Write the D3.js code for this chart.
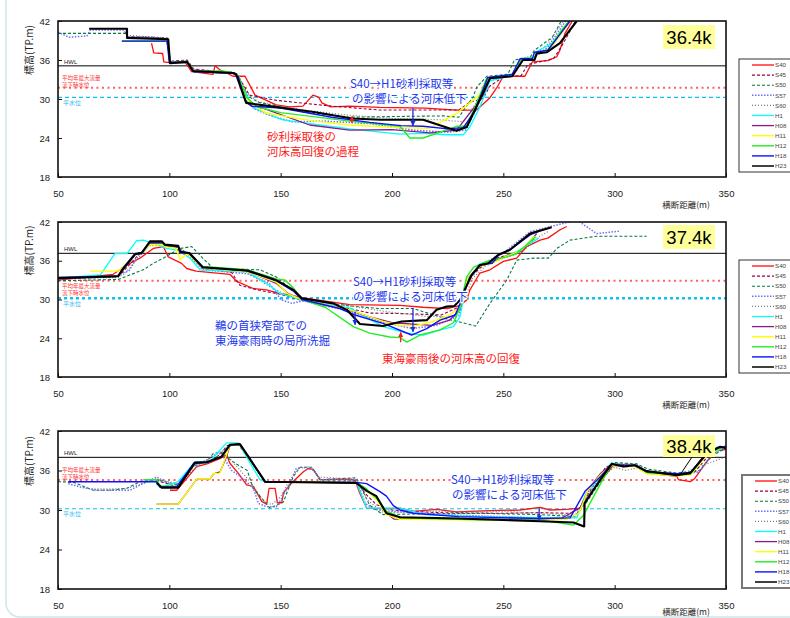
<!DOCTYPE html>
<html>
<head>
<meta charset="utf-8">
<script src="https://cdn.jsdelivr.net/npm/d3@7"></script>
<style>
body { margin: 0; background: #fff; }
svg { display: block; }
</style>
</head>
<body>
<svg id="chart" width="790" height="618"></svg>
<script>
// ---- data (distance m, elevation TP.m) ----
const sections = ["36.4k", "37.4k", "38.4k"];
const seriesNames = ["S40", "S45", "S50", "S57", "S60", "H1", "H08", "H11", "H12", "H18", "H23"];
const xTicks = [50, 100, 150, 200, 250, 300, 350];
const yTicks = [18, 24, 30, 36, 42];
const hwl = [35.1, 37.15, 38.0];
const floodLevel = [31.75, 32.9, 34.56];
const normalLevel = [30.25, 30.2, 30.2];

// 36.4k
const k364_S40 = [[92,38.6],[93,37.1],[97,37.0],[97.5,35.7],[100,35.6],[107,35.7],[110,34.2],[119.6,33.8],[120.5,35.1],[122.7,34.5],[128.6,33.5],[134,33.5],[138.5,30.6],[148,29.1],[154,28.8],[160,28.9],[164.5,30.6],[167,30.3],[168.5,29.4],[172.4,28.8],[181,28.9],[194.6,28.7],[215,28.6],[229,28.3],[238,28.3],[244,30.2],[247,31.7],[250,33.5],[259.7,33.5],[263,35.7],[270,35.9],[274,36.5],[275.4,37.5],[277.7,40.1],[281,42]];
const k364_S45 = [[80,40.4],[81,39.6],[99,39.4],[100.5,35.8],[108,36.0],[111,34.6],[129,34.0],[131,33.4],[136,30.6],[148,29.8],[170,29.0],[194.6,28.3],[215,28.3],[230,28.3],[235,29.5],[241,30.1],[244,32],[250,33.4],[258,33.6],[261,35.3],[272.5,36.2],[276,38],[279.4,40.1],[282.4,42]];
const k364_S50 = [[50,40.1],[81,40.1],[81,39.5],[99,39.3],[100.5,35.7],[108,35.8],[111,34.4],[129,34.1],[131,33.6],[135,30.5],[140,29.5],[160,28.0],[181,27.2],[200,27.3],[223,27.4],[230,27.2],[236.4,30.3],[238,31.8],[242.6,33.5],[252,33.8],[255,36.0],[262,36.4],[264,37.5],[272,39.5],[276,42]];
const k364_S57 = [[50,40.3],[55,39.5],[63,39.7],[64.5,40.6],[81,40.6],[81,39.6],[92.7,39.5],[99,39.0],[100.5,35.7],[108,35.7],[111,34.4],[129,34.0],[131,33.0],[134,30.5],[138,28.5],[145,27.5],[155,26.5],[170,26.6],[190,26.2],[210,25.2],[225,24.9],[233,25.2],[238,28.5],[243,32.8],[254,33.7],[258,36.2],[264,36.4],[270,38],[278,42]];
const k364_S60 = [[81,39.8],[99,39.4],[100.5,35.8],[108,35.9],[111,34.5],[129,34.1],[131,33.7],[135,30.8],[140,29.6],[160,28.3],[181,27.5],[200,27.0],[222,26.8],[232,26.5],[238,29.5],[243,33.0],[254,33.7],[258,36.3],[264,36.6],[270,38.5],[277,42]];
const k364_H1 = [[78.7,38.9],[99,38.9],[100.5,35.6],[108,35.6],[111,34.2],[129,34.0],[131,33.3],[135,30.3],[138,28.6],[151,26.8],[181,25.4],[203.6,24.6],[215,24.7],[224.7,24.5],[232,24.5],[235,25.7],[239.5,28.8],[244,32.8],[254,33.6],[258,36.2],[264,36.4],[265,37.3],[272.5,38.7],[279.4,42]];
const k364_H08 = [[78.7,38.9],[99,38.9],[100.5,35.6],[108,35.6],[111,34.2],[129,33.9],[131,33.5],[134.5,29.5],[137,28.9],[142,28.6],[163,26.0],[181,25.2],[200,25.3],[217,24.8],[229,25.2],[236,28.3],[241,30.6],[244,33.2],[254,33.6],[258,36],[264,36.2],[265,37],[270,37.3],[276,40.2],[279.5,42]];
const k364_H11 = [[78.7,38.9],[99,38.9],[100.5,35.6],[108,35.6],[111,34.3],[129,34.0],[131,33.5],[134.5,30.2],[136,29.4],[143.6,27.8],[165,26.6],[181,26.0],[203.6,25.6],[217,25.5],[229,27.8],[235,29.4],[239.5,30.7],[243.5,33.3],[254,33.6],[258,36],[264,36.2],[265,37],[270,37.3],[276,40],[280,42]];
const k364_H12 = [[78.7,38.9],[99,38.9],[100.5,35.6],[108,35.6],[111,34.2],[124,34.3],[129,34.0],[131,33.5],[134.5,30.3],[139.4,28.8],[150,27.9],[181,26.6],[203.6,25.8],[208,24.0],[214,24.0],[229,25.8],[233,25.8],[237,28.5],[242.5,33.2],[254,33.7],[258,36.1],[264,36.3],[265,37.1],[270,37.6],[276,40.5],[279.5,42]];
const k364_H18 = [[78.7,38.9],[99,38.9],[100,35.6],[108,35.7],[111,34.2],[129,34.0],[131,33.4],[134,29.8],[137,28.9],[150,28.6],[173,27.2],[190,26.4],[204,25.9],[214,25.8],[225,25.4],[232,25.6],[237,28.0],[243,33.3],[254,33.8],[257.5,36.2],[263,36.2],[264,37.2],[270,37.5],[276,40.2],[280,42]];
const k364_H23 = [[64,40.8],[81,40.8],[81,39.4],[99.5,39.2],[100.3,35.5],[108,35.7],[110.6,34.3],[128.6,34.0],[130,33.8],[134.5,29.4],[145,28.9],[165,28.0],[182,27.0],[195,26.8],[214,26.8],[229,25.1],[233.6,25.7],[244,33.2],[254,33.5],[258.8,36],[264,36],[265,37],[269.6,37.2],[275.4,38.6],[283,42]];

// 37.4k
const k374_S40 = [[50,33.0],[74.8,33.9],[80.8,35.3],[86.8,36.4],[92.8,37.9],[97.3,38.2],[99.5,36.6],[105.5,35.6],[107.8,34.8],[112,34.4],[127.2,33.9],[130.2,32.8],[137.7,31.7],[143.7,31.5],[149.7,30.9],[154,30.7],[159.5,30.3],[181,29.2],[203.6,29.1],[214,28.8],[224.7,28.6],[230,29.0],[233.5,29.9],[235,31.5],[239.5,34.1],[244,34.6],[250,35.9],[256,36.4],[260.5,38.2],[266.5,39.2],[270,39.5],[275.5,40.8],[278.5,41.3]];
const k374_S45 = [[50,33.2],[77,33.5],[80,34.6],[85,36.5],[91,38.5],[97,38.6],[104,38.0],[109,37.0],[115,34.8],[128,34.2],[131.7,32.2],[139.4,31.5],[150,30.8],[160,29.8],[181,28.6],[190,27.9],[206.6,27.8],[222,27.6],[230,28.8],[234,33],[240,35],[248,36.5],[258,37.5],[264,39.5]];
const k374_S50 = [[50,32.9],[77,33.1],[88.3,34.6],[92.8,35.6],[97.3,36.4],[104.8,37.9],[110,38.2],[115,36.4],[119.8,34.8],[140.8,34.6],[148,33.5],[155,31.5],[160,30.0],[181,29.0],[194.6,28.6],[209.5,28.6],[224.6,27.0],[237.6,25.9],[244,29.4],[251.5,33.0],[256,36.1],[263.5,36.4],[270.2,36.4],[274,37.9],[280,39.2],[292,39.8],[314.4,39.8]];
const k374_S57 = [[50,33.2],[75,33.5],[82,34.5],[86,36.8],[91,38.5],[97,38.6],[104,38.0],[109,36.8],[115,34.6],[135,34.0],[145,32.5],[150,30.0],[155,29.4],[160,29.8],[181,28.2],[196,26.5],[209,25.5],[220,26.0],[230,27.5],[234,33],[240,35.4],[250,37.2],[262,40.5],[283,42.3],[292,40.2],[302.6,40.6]];
const k374_S60 = [[50,33.3],[77,33.4],[80,34.0],[85,36.0],[91,38.3],[97,38.4],[104,38.0],[109,36.9],[115,34.8],[135,34.2],[145,32.0],[152,30.8],[160,30.0],[181,29.0],[196,28.2],[215,27.4],[228,27.3],[232,29.5],[236,33.2],[242,35.2],[250,36.4],[258,37.2],[265,39.5],[270,40.5]];
const k374_H1 = [[50,33.3],[69,33.8],[75.6,37.1],[81,37.1],[85.3,39.1],[88.3,39.2],[92.8,38.7],[98.8,37.9],[104,37.6],[109.3,36.4],[113.8,34.6],[135,34.3],[144.9,32.2],[149.4,31.0],[154,30.5],[159.5,29.9],[181,28.7],[196,25.8],[206.6,24.8],[214.1,24.5],[221.6,25.3],[227.6,25.8],[230.5,27.3],[233.5,32.5],[239.5,35.5],[247,36.0],[257.5,37.7],[263.5,39.0],[266,39.5]];
const k374_H08 = [[50,33.4],[77,33.7],[79,34.8],[84.6,37.0],[87.6,37.1],[91.3,38.7],[96.7,38.7],[98,38.3],[104,38.1],[105,37.2],[109,37.0],[115,34.9],[135,34.4],[148,32.5],[153,31.0],[159.5,30.0],[181,28.3],[190,27.3],[200,26.4],[209.5,26.2],[218,26.0],[226,26.8],[230.5,28.5],[234,33.3],[239.5,35.3],[245,35.7],[250,36.6],[258,37.5],[265,40.2]];
const k374_H11 = [[64.4,34.4],[77,34.4],[79,35.0],[84.6,37.0],[87.6,37.2],[91.3,38.5],[96.7,38.5],[98,38.2],[103,37.9],[104.8,36.2],[107.8,37.0],[109,36.9],[115,34.9],[135,34.3],[148,32.7],[153,30.9],[159.5,30.0],[181,28.4],[196,26.6],[203.6,26.0],[210,25.9],[218.6,26.6],[226,27.6],[230.5,28.8],[234,33.3],[239.5,35.2],[245,35.6],[250,36.5],[258,37.6],[264,39.8]];
const k374_H12 = [[50,33.4],[77,33.6],[79,34.7],[84.6,37.0],[87.6,37.2],[91.3,38.8],[96.7,38.8],[98,38.4],[104,38.2],[105,37.3],[109,37.2],[115,35.1],[135,34.6],[148,33.2],[152,33.0],[155.7,31.8],[159.5,30.0],[170,28.8],[182.6,25.8],[190,24.8],[199,24.2],[203.6,24.1],[206.6,23.4],[212.6,24.5],[221.6,25.3],[227.6,26.4],[230.5,28.7],[233.5,33.5],[236.7,35.0],[242.5,35.9],[251.5,36.6],[256,37.1],[264.5,39.7]];
const k374_H18 = [[50,33.4],[77,33.6],[79,34.8],[84.6,37.1],[87.6,37.3],[91.3,38.9],[96.7,38.9],[98,38.4],[104,38.2],[105,37.3],[109,37.1],[115,35.0],[135,34.4],[148,32.9],[155.7,31.3],[159.5,30.0],[176.6,28.6],[183.4,27.6],[196,26.3],[208.8,24.5],[215.6,25.5],[221.6,26.8],[228.4,27.6],[230.5,29.3],[235,33.5],[239.5,35.4],[245,35.6],[248,36.9],[253,37.7],[262,40.0],[266,40.6]];
const k374_H23 = [[50,33.3],[77,33.6],[79,34.6],[84.6,37.0],[87.6,37.2],[91.3,39.0],[96.7,39.0],[98,38.5],[104,38.3],[104.8,37.4],[109,37.2],[115,35.0],[135,34.5],[148,33.0],[155.7,31.5],[159.5,30.2],[173.6,29.4],[179.7,28.4],[185.6,26.2],[196,25.9],[204.3,26.6],[215.6,26.8],[220,28.4],[224.6,28.9],[228,29.0],[230.5,29.9],[235.8,33.8],[239.5,35.3],[243.3,35.6],[247.6,36.9],[253,37.7],[262,40.2],[271.7,41.2]];

// 38.4k
const k384_S40 = [[100.3,33.0],[103.3,33.0],[112.3,36.6],[117.7,37.1],[122.7,37.8],[125.7,38.4],[127.2,37.1],[130.9,35.6],[134.7,33.8],[137.7,33.6],[141.5,31.3],[143.7,30.9],[144.8,33.3],[147.5,33.3],[148.5,31.1],[150.5,31.1],[151.2,32.6],[154.9,34.1],[160.2,35.8],[162.4,36.3],[164.5,36.2],[167.7,34.6],[181.1,34.7],[183.4,34.5],[185.6,32.5],[188.6,30.3],[197.5,30.2],[203.6,30.3],[209.5,29.8],[220,30.1],[229,29.7],[244,29.9],[257.5,30.0],[266.5,30.4],[271,30.0],[278.5,30.1],[284.4,30.3],[288.9,32.5],[294.1,34.6],[299.4,36.8],[305.4,36.6],[309,36.7],[314.4,35.6],[327.9,35.1],[328.7,34.6],[334,34.3],[336,34.8],[341.4,37.4],[345.9,39.0],[350,39.2]];
const k384_S45 = [[94,34.5],[104,33.5],[111.5,37.0],[118,37.3],[123,38.5],[126,39.8],[131,39.9],[135.5,38.0],[143,34.3],[160,34.3],[184,34.4],[188,32.5],[193,30.8],[200,30.0],[220,29.6],[250,29.5],[266.5,29.6],[280,29.5],[285,30.5],[290,33.5],[296,36.5],[300,37.0],[310,36.8],[314,35.8],[328,35.5],[336,35.8],[342,38.2],[348,39.4]];
const k384_S50 = [[50,34.3],[57,34.2],[65.9,33.0],[73.4,33.0],[80.9,33.3],[86.8,34.3],[94.3,34.6],[104,33.8],[110,36.5],[117,37.5],[119.8,38.6],[123,38.8],[126,38],[130,37],[135,36],[137.7,33.3],[142.2,31.5],[145.2,30.3],[151.2,31.2],[155.7,35.1],[158.7,36.5],[164,36.5],[167.7,34.6],[184,34.9],[190,30.7],[196,29.3],[210,29.4],[240,29.5],[266,29.3],[282,29.0],[287,31],[294,34.5],[300,37.2],[310,37.0],[315,36.2],[328,35.6],[338,36.0],[344,38.3],[349,39.2]];
const k384_S57 = [[54.6,34.0],[60,33.5],[67.4,33.0],[82.3,33.0],[88,34],[94.3,35.0],[100,34.0],[104,34.0],[110,36.5],[118,37.8],[122,38.7],[124,38.2],[128,36],[133,34.8],[137.7,33.3],[140,31.0],[143.7,30.5],[148,30.5],[150,31.5],[153.7,33.8],[157,36.3],[160,36.5],[165,36.0],[168,34.6],[184,34.6],[188,31.0],[192,30.1],[200,29.8],[230,29.2],[266,28.8],[282,28.9],[287,31.5],[293,35],[299,37],[310,36.9],[315,35.7],[329,35.4],[338,35.8],[344,38.5],[350,39.8]];
const k384_S60 = [[65,33.2],[80,33.2],[88,34.0],[94,34.7],[104,34.0],[112,36.5],[119,38.0],[124,39.0],[128,37.5],[134,35.2],[138,33.5],[142,31.5],[146,30.8],[150,32],[154,34.5],[158,36.3],[163,36.6],[167,35.0],[184,34.7],[189,31.5],[196,29.6],[220,29.8],[250,29.8],[282,29.2],[288,32],[294,35],[300,36.5],[305,36.0],[311,36.5],[316,35.5],[328,35.3],[350,38.1]];
const k384_H1 = [[94,34.3],[95.8,33.4],[104,34.3],[111.5,37.3],[118,37.3],[125.7,40.2],[131,40.2],[140.7,34.6],[143,34.3],[184,34.2],[188.6,30.3],[203.6,30.3],[215,29.3],[240,29.0],[266.5,28.8],[283,28.8],[287,32.5],[293.5,35.0],[298.7,37.2],[304,36.5],[309,36.8],[314.4,35.7],[328,35.3],[334,35.5],[340,38.0],[349,39.5]];
const k384_H08 = [[94.3,30.9],[104,30.9],[112.3,34.7],[118.2,34.7],[119.8,35.5],[122.8,35.8],[125.7,38.1],[127.2,39.8],[131.7,39.9],[135.5,38.0],[143,34.3],[184,34.1],[188.6,33.0],[193,31.8],[197.5,29.5],[201,28.6],[210,28.6],[240,28.6],[266.5,28.6],[276,28.7],[284.4,30.3],[289,33.5],[293.5,35.5],[298.7,37.0],[304,36.8],[309,36.9],[314.4,35.6],[328,35.3],[334,35.6],[340,38.2],[348,39.5]];
const k384_H11 = [[94.3,30.9],[104,30.9],[112.3,34.7],[118.2,34.7],[119.8,35.5],[122.7,35.6],[125.7,38.4],[127.2,39.9],[131.7,39.9],[135.5,38.0],[143,34.3],[184,34.1],[188.6,33.0],[193,31.6],[197.5,29.3],[203.6,28.6],[230,28.5],[266.5,28.4],[278.5,28.6],[284,29.5],[288,33.0],[293.5,35.3],[298.7,36.8],[304,36.6],[309,36.7],[314.4,35.5],[328,35.2],[334,35.3],[340,37.8],[347,39.3]];
const k384_H12 = [[88.3,34.6],[94.3,34.6],[96,33.6],[104,33.6],[111.5,37.1],[117,37.2],[123.5,38.2],[127.2,39.9],[131.7,40.0],[135.5,38.0],[143,34.3],[184,34.2],[188.6,33.2],[193,31.8],[197.5,29.8],[203.6,28.9],[215.6,28.7],[240,28.5],[266.5,28.5],[281.5,27.7],[286,29.2],[293.5,33.9],[298.7,37.0],[304,36.7],[309,36.9],[314.4,35.7],[328,35.4],[334,35.5],[340,38],[348,39.6]];
const k384_H18 = [[54.6,34.3],[94.3,34.3],[95.8,33.5],[103.3,33.5],[111,37.1],[117,37.2],[123,38.0],[127,39.9],[131.7,40.0],[135.5,38.1],[143,34.2],[184,34.2],[188.6,34.0],[194.6,32.8],[197.5,32.1],[200.5,30.7],[203.6,30.0],[209.5,29.5],[230,29.0],[266.5,28.7],[280,28.8],[286.8,32.9],[293.5,35.0],[298.7,37.0],[304,36.7],[309,36.8],[314.4,35.8],[328,35.5],[334,35.7],[340,38.0],[346,39.5],[350,39.6]];
const k384_H23 = [[94.3,34.1],[96.6,33.4],[104,33.4],[111.5,37.2],[117,37.3],[123.5,38.1],[127.2,39.9],[131.7,40.0],[135.5,38.1],[143,34.3],[184,34.1],[188.6,32.9],[193,32.1],[197.5,29.5],[203.6,28.9],[230,28.7],[266.5,28.3],[281.5,28.1],[286.3,27.5],[286.5,31.0],[293.5,34.6],[298.7,37.0],[304,36.6],[309,36.8],[314.4,35.9],[327.9,35.3],[334,35.6],[341.4,38.6],[347.4,39.6],[350,39.4]];

// ---- styles ----
const seriesStyle = {
  S40: { color: "#ff1010", width: 1.3, dash: null },
  S45: { color: "#990040", width: 1.1, dash: "3,2" },
  S50: { color: "#007a40", width: 1.1, dash: "3,2" },
  S57: { color: "#6f6fff", width: 1.5, dash: "1.5,1.5" },
  S60: { color: "#7a7a7a", width: 1.2, dash: "1,2" },
  H1:  { color: "#00ffff", width: 1.3, dash: null },
  H08: { color: "#8a1a8a", width: 1.3, dash: null },
  H11: { color: "#ffff00", width: 1.4, dash: null },
  H12: { color: "#22ee22", width: 1.4, dash: null },
  H18: { color: "#1010ff", width: 1.4, dash: null },
  H23: { color: "#000000", width: 2.1, dash: null }
};

const panelData = [
  { S40: k364_S40, S45: k364_S45, S50: k364_S50, S57: k364_S57, S60: k364_S60, H1: k364_H1, H08: k364_H08, H11: k364_H11, H12: k364_H12, H18: k364_H18, H23: k364_H23 },
  { S40: k374_S40, S45: k374_S45, S50: k374_S50, S57: k374_S57, S60: k374_S60, H1: k374_H1, H08: k374_H08, H11: k374_H11, H12: k374_H12, H18: k374_H18, H23: k374_H23 },
  { S40: k384_S40, S45: k384_S45, S50: k384_S50, S57: k384_S57, S60: k384_S60, H1: k384_H1, H08: k384_H08, H11: k384_H11, H12: k384_H12, H18: k384_H18, H23: k384_H23 }
];

// layout
const plotTop = [21, 222, 431];
const plotBottom = [177, 377, 589];
const legendBox = [[739, 59, 113], [739, 260, 113], [742, 475, 113]];
const floodLabelDy = [-8, 7, -8];
const JP = "'Noto Sans CJK JP', sans-serif";
const LAT = "'Liberation Sans', Arial, sans-serif";

const svg = d3.select("#chart");
const defs = svg.append("defs");

// frame of the page
svg.append("rect").attr("x", 6).attr("y", -20).attr("width", 800).attr("height", 637)
  .attr("rx", 14).attr("fill", "none").attr("stroke", "#cfe6ec").attr("stroke-width", 1.5);

["blue", "red"].forEach(c => {
  defs.append("marker").attr("id", "arr-" + c).attr("viewBox", "0 0 10 10")
    .attr("refX", 9).attr("refY", 5).attr("markerWidth", 4).attr("markerHeight", 4)
    .attr("orient", "auto")
    .append("path").attr("d", "M0,0L10,5L0,10Z")
    .attr("fill", c === "blue" ? "#1a2fe0" : "#ff1a1a");
});

const x = d3.scaleLinear().domain([50, 350]).range([58, 726]);

// annotations per panel
const blueNotes = [
  [{ x: 350, y: 88, t: "S40→H1砂利採取等" }, { x: 352, y: 103, t: "の影響による河床低下" }],
  [{ x: 215, y: 330, t: "鵜の首狭窄部での" }, { x: 215, y: 345, t: "東海豪雨時の局所洗掘" },
   { x: 353, y: 286, t: "S40→H1砂利採取等" }, { x: 353, y: 301, t: "の影響による河床低下" }],
  [{ x: 451, y: 484, t: "S40→H1砂利採取等" }, { x: 452, y: 499, t: "の影響による河床低下" }]
];
const redNotes = [
  [{ x: 267, y: 141, t: "砂利採取後の" }, { x: 267, y: 156, t: "河床高回復の過程" }],
  [{ x: 382, y: 362.5, t: "東海豪雨後の河床高の回復" }],
  []
];
// arrows: [distance, from elevation, to elevation, colour]
const arrows = [
  [[209.4, 28.6, 25.9, "blue"], [182, 26.3, 27.3, "red"]],
  [[183.4, 28.1, 26.1, "blue"], [209.4, 28.7, 25.0, "blue"], [203.9, 23.4, 24.9, "red"]],
  [[266.1, 30.3, 28.5, "blue"]]
];

sections.forEach((name, i) => {
  const top = plotTop[i], bottom = plotBottom[i];
  const y = d3.scaleLinear().domain([18, 42]).range([bottom, top]);
  const g = svg.append("g");

  defs.append("clipPath").attr("id", "clip" + i).append("rect")
    .attr("x", x(50)).attr("y", top).attr("width", x(350) - x(50)).attr("height", bottom - top);

  const inner = g.append("g").attr("clip-path", `url(#clip${i})`);

  // reference levels
  inner.append("line").attr("x1", x(50)).attr("x2", x(350))
    .attr("y1", y(hwl[i])).attr("y2", y(hwl[i])).attr("stroke", "#000").attr("stroke-width", 1);
  inner.append("line").attr("x1", x(50)).attr("x2", x(350))
    .attr("y1", y(floodLevel[i])).attr("y2", y(floodLevel[i]))
    .attr("stroke", "#ff6060").attr("stroke-width", 2).attr("stroke-dasharray", "2,3.5");
  inner.append("line").attr("x1", x(50)).attr("x2", x(350))
    .attr("y1", y(normalLevel[i])).attr("y2", y(normalLevel[i]))
    .attr("stroke", "#10c0f0").attr("stroke-width", i === 1 ? 2.6 : 1.1)
    .attr("stroke-dasharray", i === 1 ? "3,3" : "4,3");

  const line = d3.line().x(d => x(d[0])).y(d => y(d[1]));
  seriesNames.forEach(s => {
    const st = seriesStyle[s];
    inner.append("path").datum(panelData[i][s])
      .attr("d", line).attr("fill", "none")
      .attr("stroke", st.color).attr("stroke-width", st.width)
      .attr("stroke-dasharray", st.dash).attr("stroke-linejoin", "round");
  });

  // arrows
  arrows[i].forEach(a => {
    g.append("line").attr("x1", x(a[0])).attr("x2", x(a[0]))
      .attr("y1", y(a[1])).attr("y2", y(a[2]))
      .attr("stroke", a[3] === "blue" ? "#1a2fe0" : "#ff1a1a").attr("stroke-width", 1.3)
      .attr("marker-end", `url(#arr-${a[3]})`);
  });

  // frame
  g.append("rect").attr("x", x(50)).attr("y", top)
    .attr("width", x(350) - x(50)).attr("height", bottom - top)
    .attr("fill", "none").attr("stroke", "#111").attr("stroke-width", 1.6);

  // axes
  const ay = g.append("g").attr("transform", `translate(${x(50)},0)`)
    .call(d3.axisLeft(y).tickValues(yTicks).tickSize(-4).tickPadding(8));
  const ax = g.append("g").attr("transform", `translate(0,${bottom})`)
    .call(d3.axisBottom(x).tickValues(xTicks).tickSize(-4).tickPadding(13));
  [ax, ay].forEach(a => {
    a.select(".domain").remove();
    a.selectAll("line").attr("stroke", "#111");
    a.selectAll("text").attr("font-family", LAT).attr("font-size", 9.5).attr("fill", "#222");
  });

  // axis titles
  g.append("text").attr("transform", `translate(33,${(top + bottom) / 2 - 49}) rotate(-90)`)
    .attr("text-anchor", "middle").attr("font-family", JP).attr("font-size", 10).attr("fill", "#222")
    .text("標高(TP.m)");
  g.append("text").attr("x", 686).attr("y", i === 2 ? 615 : bottom + 31)
    .attr("text-anchor", "middle").attr("font-family", JP).attr("font-size", 8.5).attr("fill", "#222")
    .text("横断距離(m)");

  // level labels
  g.append("text").attr("x", 64).attr("y", y(hwl[i]) - 2)
    .attr("font-family", LAT).attr("font-size", 6).attr("fill", "#222").text("HWL");
  const fy = y(floodLevel[i]) + floodLabelDy[i];
  g.append("text").attr("x", 62).attr("y", fy)
    .attr("font-family", JP).attr("font-size", 5.5).attr("fill", "#ff3030").text("平均年最大流量");
  g.append("text").attr("x", 62).attr("y", fy + 7.5)
    .attr("font-family", JP).attr("font-size", 5.5).attr("fill", "#ff3030").text("流下時水位");
  g.append("text").attr("x", 63).attr("y", y(normalLevel[i]) + 7.5)
    .attr("font-family", JP).attr("font-size", 6).attr("fill", "#30b8f0").text("平水位");

  // notes
  blueNotes[i].forEach(n => {
    g.append("text").attr("x", n.x).attr("y", n.y).attr("font-family", JP).attr("font-size", 11.5)
      .attr("fill", "#2236ee").attr("stroke", "#fff").attr("stroke-width", 2.5)
      .attr("paint-order", "stroke").text(n.t);
  });
  redNotes[i].forEach(n => {
    g.append("text").attr("x", n.x).attr("y", n.y).attr("font-family", JP).attr("font-size", 11.5)
      .attr("fill", "#ff2020").attr("stroke", "#fff").attr("stroke-width", 2.5)
      .attr("paint-order", "stroke").text(n.t);
  });

  // section label
  if (i === 2) {
    g.append("line").attr("x1", 692).attr("y1", 457).attr("x2", x(329.3)).attr("y2", y(35.3))
      .attr("stroke", "#000").attr("stroke-width", 1);
  }
  const by = [25, 225, 435][i];
  g.append("rect").attr("x", 663).attr("y", by).attr("width", 52).attr("height", i === 2 ? 22 : 24)
    .attr("fill", "#ffff99");
  g.append("text").attr("x", 689).attr("y", by + (i === 2 ? 18 : 19)).attr("text-anchor", "middle")
    .attr("font-family", LAT).attr("font-size", 18.5).attr("fill", "#000").text(name);

  // legend
  const [lx, ly, lh] = legendBox[i];
  const lg = g.append("g");
  lg.append("rect").attr("x", lx).attr("y", ly).attr("width", 62).attr("height", lh)
    .attr("fill", "#fff").attr("stroke", i === 2 ? "#777" : "#333").attr("stroke-width", i === 2 ? 2 : 1);
  seriesNames.forEach((s, k) => {
    const st = seriesStyle[s];
    const yy = ly + 6 + k * 10.1;
    lg.append("line").attr("x1", lx + 13).attr("x2", lx + 35).attr("y1", yy).attr("y2", yy)
      .attr("stroke", s === "S40" ? "#ff5050" : st.color)
      .attr("stroke-width", s === "S40" ? 1.8 : Math.min(st.width, 1.5))
      .attr("stroke-dasharray", st.dash);
    lg.append("text").attr("x", lx + 36).attr("y", yy + 2.2)
      .attr("font-family", LAT).attr("font-size", 6.2).attr("fill", "#444").text(s);
  });
});
</script>
</body>
</html>
